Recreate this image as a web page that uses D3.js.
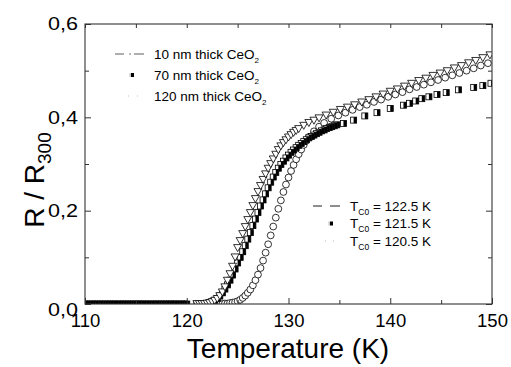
<!DOCTYPE html>
<html><head><meta charset="utf-8">
<script src="https://cdn.jsdelivr.net/npm/d3@7"></script>
<style>body{margin:0;background:#fff}svg{display:block}text{font-family:"Liberation Sans",Arial,sans-serif;fill:#000}</style>
</head><body><svg id="c" width="511" height="367"></svg>
<script>
const xTicks=[110,120,130,140,150];
const xMinor=[115,125,135,145];
const yTicks=[0,0.2,0.4,0.6];
const yMinor=[0.1,0.3,0.5];
const yLabels=["0,0","0,2","0,4","0,6"];
const seriesNames=["10 nm thick CeO","70 nm thick CeO","120 nm thick CeO"];
const tcLabels=["122.5 K","121.5 K","120.5 K"];

// 10 nm (open down triangles)
const t10=[121,121.25,121.5,121.75,122,122.25,122.5,122.75,123,123.25,123.5,123.75,124,124.25,124.5,124.75,125,125.25,125.5,125.75,126,126.25,126.5,126.75,127,127.25,127.5,127.75,128,128.25,128.5,128.75,129,129.25,129.5,129.75,130,130.25,130.5,130.75,131,131.5,132,132.5,133,133.7,134.4,135.1,135.8,136.5,137.2,137.9,138.6,139.3,140,140.7,141.4,142.1,142.8,143.5,144.2,144.9,145.6,146.3,147,147.7,148.4,149.1,149.8];
const r10=[0,0,0,0,0.001,0.002,0.004,0.007,0.011,0.017,0.025,0.036,0.05,0.064,0.08,0.1,0.12,0.135,0.15,0.165,0.18,0.195,0.21,0.225,0.24,0.253,0.266,0.278,0.29,0.30,0.31,0.32,0.33,0.338,0.345,0.351,0.357,0.362,0.367,0.371,0.375,0.382,0.388,0.393,0.398,0.404,0.41,0.416,0.421,0.426,0.432,0.437,0.443,0.449,0.455,0.46,0.466,0.472,0.478,0.483,0.489,0.494,0.499,0.505,0.51,0.516,0.521,0.527,0.533];

// 70 nm (half-filled squares)
const t70=[110,110.25,110.5,110.75,111,111.25,111.5,111.75,112,112.25,112.5,112.75,113,113.25,113.5,113.75,114,114.25,114.5,114.75,115,115.25,115.5,115.75,116,116.25,116.5,116.75,117,117.25,117.5,117.75,118,118.25,118.5,118.75,119,119.25,119.5,119.75,120,
121,121.25,121.5,121.75,
122,122.25,122.5,122.75,123,123.25,123.5,123.75,124,124.25,124.5,124.75,125,125.25,125.5,125.75,126,126.25,126.5,126.75,127,127.25,127.5,127.75,128,128.25,128.5,128.75,129,129.25,129.5,129.75,130,130.25,130.5,130.75,131,131.25,131.5,131.75,132,132.25,132.5,132.75,133,133.25,133.5,133.75,134,134.25,134.5,134.75,
135.4,136.4,137.5,138.7,140.0,141.3,141.9,142.5,143.1,143.8,144.6,145.5,146.7,148.2,149.1,149.9];
const r70=[0,0,0,0,0,0,0,0,0,0,0,0,0,0,0,0,0,0,0,0,0,0,0,0,0,0,0,0,0,0,0,0,0,0,0,0,0,0,0,0,0,
0,0,0,0,
0.001,0.003,0.005,0.008,0.012,0.017,0.024,0.032,0.041,0.051,0.062,0.075,0.088,0.1,0.112,0.125,0.139,0.153,0.168,0.182,0.196,0.21,0.223,0.236,0.249,0.261,0.272,0.282,0.291,0.299,0.306,0.313,0.319,0.325,0.33,0.335,0.34,0.344,0.348,0.352,0.356,0.359,0.362,0.365,0.368,0.371,0.373,0.376,0.378,0.38,0.382,0.384,
0.387,0.394,0.403,0.41,0.419,0.426,0.43,0.435,0.44,0.444,0.449,0.453,0.459,0.464,0.468,0.473];

// 120 nm (open circles)
const t120=[122.5,122.75,123,123.25,123.5,123.75,124,124.25,124.5,124.75,125,125.25,125.5,125.75,126,126.25,126.5,126.75,127,127.25,127.5,127.75,128,128.25,128.5,128.75,129,129.25,129.5,129.75,130,130.25,130.5,130.75,131,131.25,131.5,131.75,132,132.5,133,133.5,134.2,134.9,135.6,136.3,137,137.7,138.4,139.1,139.8,140.5,141.2,141.9,142.6,143.3,144,144.7,145.4,146.1,146.8,147.5,148.2,148.9,149.6];
const r120=[0,0,0,0,0,0.001,0.001,0.002,0.003,0.004,0.006,0.009,0.013,0.018,0.024,0.031,0.04,0.051,0.063,0.077,0.093,0.11,0.128,0.147,0.166,0.185,0.204,0.222,0.24,0.256,0.271,0.285,0.298,0.31,0.321,0.331,0.341,0.35,0.358,0.37,0.38,0.388,0.397,0.404,0.41,0.416,0.422,0.427,0.433,0.438,0.444,0.449,0.454,0.46,0.465,0.47,0.475,0.48,0.485,0.49,0.495,0.5,0.505,0.511,0.516];

const svg=d3.select("#c");
const x=d3.scaleLinear().domain([110,150]).range([85,492]);
const y=d3.scaleLinear().domain([0,0.6]).range([304,24]);
const X0=x.range()[0],X1=x.range()[1],Y0=y.range()[1],Y1=y.range()[0];

svg.append("defs").append("clipPath").attr("id","pa").append("rect")
  .attr("x",X0).attr("y",Y0).attr("width",X1-X0).attr("height",Y1-Y0);
const plot=svg.append("g").attr("clip-path","url(#pa)");

const d10=t10.map((t,i)=>({t,r:r10[i]}));
const d70=t70.map((t,i)=>({t,r:r70[i]}));
const d120=t120.map((t,i)=>({t,r:r120[i]}));

// circles
plot.append("g").selectAll("circle").data(d120).join("circle")
  .attr("cx",d=>x(d.t)).attr("cy",d=>y(d.r)).attr("r",3.4)
  .attr("fill","#fff").attr("stroke","#000").attr("stroke-width",0.8);

// half-filled squares (drawn right-to-left)
const sq=plot.append("g").selectAll("g").data(d70.slice().reverse()).join("g")
  .attr("transform",d=>`translate(${x(d.t)},${y(d.r)})`);
sq.append("rect").attr("x",-3).attr("y",-3).attr("width",6).attr("height",6)
  .attr("fill","#fff").attr("stroke","#000").attr("stroke-width",0.8);
sq.append("rect").attr("x",0).attr("y",-3).attr("width",3).attr("height",6).attr("fill","#000");

// down triangles
plot.append("g").selectAll("path").data(d10).join("path")
  .attr("d","M-4,-3.4L4,-3.4L0,3.6Z")
  .attr("transform",d=>`translate(${x(d.t)},${y(d.r)})`)
  .attr("fill","#fff").attr("stroke","#000").attr("stroke-width",0.8);

// frame
svg.append("rect").attr("x",X0).attr("y",Y0).attr("width",X1-X0).attr("height",Y1-Y0)
  .attr("fill","none").attr("stroke","#333").attr("stroke-width",1.1);

function ax(gen,tr){
  const g=svg.append("g").attr("transform",tr).call(gen);
  g.select(".domain").remove();
  g.selectAll("line").attr("stroke","#333").attr("stroke-width",1);
  g.selectAll("text").style("font-family",'"Liberation Sans",Arial,sans-serif').attr("fill","#000");
  return g;
}
const gb=ax(d3.axisBottom(x).tickValues(xTicks).tickSize(-6).tickPadding(10).tickFormat(d3.format("d")),`translate(0,${Y1})`);
gb.selectAll("text").style("font-size","18.5px");
ax(d3.axisBottom(x).tickValues(xMinor).tickSize(-4).tickFormat(""),`translate(0,${Y1})`);
ax(d3.axisTop(x).tickValues(xTicks.concat(xMinor)).tickSize(-4).tickFormat(""),`translate(0,${Y0})`);
const gl=ax(d3.axisLeft(y).tickValues(yTicks).tickSize(-6).tickPadding(7).tickFormat((d,i)=>yLabels[i]),`translate(${X0},0)`);
gl.selectAll("text").style("font-size","18.5px").attr("textLength",30).attr("lengthAdjust","spacingAndGlyphs");
gl.selectAll("text").filter(d=>d===0).attr("dy","0.62em");
ax(d3.axisLeft(y).tickValues(yMinor).tickSize(-4).tickFormat(""),`translate(${X0},0)`);
ax(d3.axisRight(y).tickValues(yTicks).tickSize(-6).tickFormat(""),`translate(${X1},0)`);
ax(d3.axisRight(y).tickValues(yMinor).tickSize(-4).tickFormat(""),`translate(${X1},0)`);

// axis titles
svg.append("text").attr("x",288).attr("y",358).attr("text-anchor","middle")
  .style("font-size","28px").text("Temperature (K)");
const yt=svg.append("text").attr("transform","translate(44,180) rotate(-90)").attr("text-anchor","middle").style("font-size","28px");
yt.append("tspan").text("R / R");
yt.append("tspan").attr("dy",7).style("font-size","19px").text("300");

// legend 1
const L1y=[54,75,96];
const lg1=svg.append("g");
seriesNames.forEach((s,i)=>{
  const t=lg1.append("text").attr("x",154).attr("y",L1y[i]).attr("dy","0.36em").style("font-size","13.5px");
  t.append("tspan").text(s);
  t.append("tspan").attr("dy",4).style("font-size","8px").text("2");
});
lg1.append("line").attr("x1",115).attr("x2",124).attr("y1",L1y[0]).attr("y2",L1y[0]).attr("stroke","#777").attr("stroke-width",1.2);
lg1.append("line").attr("x1",129).attr("x2",131).attr("y1",L1y[0]).attr("y2",L1y[0]).attr("stroke","#777").attr("stroke-width",1.2);
lg1.append("line").attr("x1",134).attr("x2",144).attr("y1",L1y[0]).attr("y2",L1y[0]).attr("stroke","#777").attr("stroke-width",1.2);
lg1.append("rect").attr("x",131).attr("y",L1y[1]-2).attr("width",3).attr("height",4).attr("fill","#000");
lg1.append("rect").attr("x",129.6).attr("y",L1y[1]-2).attr("width",1).attr("height",4).attr("fill","#aaa");
[128,137].forEach(px=>lg1.append("rect").attr("x",px).attr("y",L1y[2]-0.5).attr("width",1).attr("height",1).attr("fill","#bbb"));

// legend 2
const L2y=[206,223.5,241];
const lg2=svg.append("g");
tcLabels.forEach((s,i)=>{
  const t=lg2.append("text").attr("x",350).attr("y",L2y[i]).attr("dy","0.36em").style("font-size","13.5px");
  t.append("tspan").text("T");
  t.append("tspan").attr("dy",4).style("font-size","8.5px").text("C0");
  t.append("tspan").attr("dy",-4).text(" = "+s);
});
lg2.append("line").attr("x1",313).attr("x2",322).attr("y1",L2y[0]).attr("y2",L2y[0]).attr("stroke","#444").attr("stroke-width",1.2);
lg2.append("line").attr("x1",330).attr("x2",340).attr("y1",L2y[0]).attr("y2",L2y[0]).attr("stroke","#444").attr("stroke-width",1.2);
lg2.append("rect").attr("x",330).attr("y",L2y[1]-2).attr("width",3).attr("height",4).attr("fill","#000");
lg2.append("rect").attr("x",328.6).attr("y",L2y[1]-2).attr("width",1).attr("height",4).attr("fill","#aaa");
[325,333].forEach(px=>lg2.append("rect").attr("x",px).attr("y",L2y[2]-0.5).attr("width",1).attr("height",1).attr("fill","#bbb"));
</script></body></html>
